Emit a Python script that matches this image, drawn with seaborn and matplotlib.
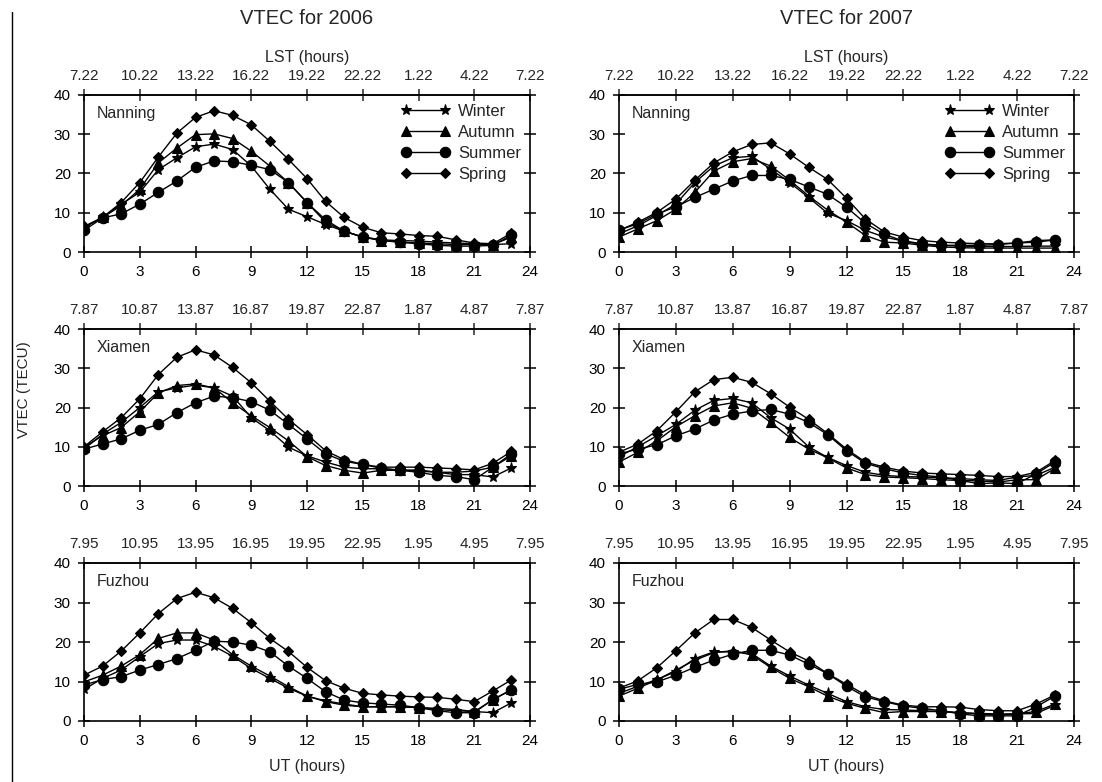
import numpy as np
import pandas as pd
import matplotlib
matplotlib.use("Agg")
import matplotlib.pyplot as plt
from matplotlib.lines import Line2D
import seaborn as sns

# ---------------- data ----------------
ut_hours = list(range(24))
ut_ticks = [0, 3, 6, 9, 12, 15, 18, 21, 24]
seasons = ["Winter", "Autumn", "Summer", "Spring"]
years = ["2006", "2007"]
stations = ["Nanning", "Xiamen", "Fuzhou"]

nanning_lst = ["7.22", "10.22", "13.22", "16.22", "19.22", "22.22", "1.22", "4.22", "7.22"]
xiamen_lst = ["7.87", "10.87", "13.87", "16.87", "19.87", "22.87", "1.87", "4.87", "7.87"]
fuzhou_lst = ["7.95", "10.95", "13.95", "16.95", "19.95", "22.95", "1.95", "4.95", "7.95"]

# Nanning 2006
nan06_winter = [6.3, 8.8, 12.2, 15.2, 21.0, 24.0, 26.8, 27.5, 26.1, 21.9, 16.0, 10.9, 9.0, 7.0, 5.3, 3.8, 3.1, 2.9, 2.8, 2.5, 2.3, 2.1, 1.9, 2.1]
nan06_autumn = [6.3, 8.8, 11.8, 16.0, 22.7, 26.5, 29.9, 30.1, 28.9, 25.7, 21.9, 17.7, 12.6, 7.6, 5.3, 3.8, 2.9, 2.5, 2.3, 2.1, 1.9, 1.9, 1.9, 3.8]
nan06_summer = [5.5, 8.7, 9.7, 12.2, 15.2, 18.1, 21.6, 23.2, 23.0, 22.1, 21.0, 17.7, 12.6, 8.2, 5.3, 3.8, 3.1, 2.5, 2.1, 1.7, 1.5, 1.5, 1.7, 4.3]
nan06_spring = [6.5, 8.8, 12.6, 17.7, 24.2, 30.3, 34.3, 36.0, 34.8, 32.4, 28.2, 23.6, 18.7, 12.9, 8.8, 6.3, 4.9, 4.6, 4.2, 4.0, 3.1, 2.3, 2.1, 4.8]
# Nanning 2007
nan07_winter = [4.6, 6.7, 9.3, 12.2, 17.7, 21.9, 24.0, 24.4, 21.1, 17.7, 13.9, 9.9, 8.0, 5.5, 3.8, 2.8, 2.1, 1.7, 1.5, 1.4, 1.4, 1.4, 1.5, 1.5]
nan07_autumn = [3.8, 5.9, 8.0, 10.9, 15.2, 20.6, 23.0, 23.8, 21.9, 18.3, 14.3, 10.7, 7.6, 4.2, 2.5, 2.3, 1.7, 1.3, 1.1, 1.0, 1.0, 1.0, 1.0, 1.0]
nan07_summer = [5.6, 7.2, 9.7, 11.5, 13.9, 16.0, 18.1, 19.5, 19.5, 18.5, 16.6, 14.7, 11.4, 7.3, 4.5, 2.8, 1.9, 1.7, 1.7, 1.7, 1.9, 2.3, 2.5, 3.1]
nan07_spring = [5.5, 7.6, 10.1, 13.5, 18.3, 22.7, 25.5, 27.4, 27.8, 25.0, 21.6, 18.5, 13.7, 8.4, 5.1, 3.8, 2.9, 2.5, 2.3, 2.1, 2.1, 2.3, 2.9, 3.1]
# Xiamen 2006
xia06_winter = [9.4, 13.2, 16.2, 20.0, 24.0, 25.0, 25.7, 25.0, 22.9, 17.4, 14.1, 9.9, 7.7, 6.1, 4.8, 4.4, 4.4, 4.1, 3.8, 3.5, 2.9, 2.9, 2.3, 4.6]
xia06_autumn = [9.9, 12.8, 14.9, 18.9, 23.7, 25.6, 26.0, 25.0, 21.2, 17.9, 14.9, 11.5, 7.5, 5.2, 4.0, 3.3, 4.0, 4.0, 4.1, 3.5, 3.5, 3.8, 4.8, 7.7]
xia06_summer = [9.4, 10.7, 12.0, 14.2, 15.7, 18.7, 21.2, 22.9, 22.5, 21.5, 19.3, 15.7, 12.0, 8.2, 6.3, 5.5, 4.5, 4.0, 3.5, 2.7, 2.4, 1.6, 4.8, 8.2]
xia06_spring = [10.0, 13.8, 17.4, 22.2, 28.4, 32.8, 34.7, 33.4, 30.2, 26.3, 21.6, 17.0, 13.1, 9.0, 6.7, 5.5, 4.8, 4.8, 4.8, 4.6, 4.4, 4.1, 5.8, 8.8]
# Xiamen 2007
xia07_winter = [7.5, 10.0, 12.8, 15.7, 19.3, 21.8, 22.3, 21.2, 17.4, 14.5, 10.0, 7.3, 5.2, 3.5, 2.7, 2.4, 2.3, 2.1, 1.9, 1.6, 1.4, 2.3, 2.7, 4.8]
xia07_autumn = [6.1, 8.6, 11.5, 15.1, 17.9, 20.4, 21.2, 19.8, 16.2, 12.4, 9.4, 7.2, 4.6, 2.9, 2.3, 2.1, 1.9, 1.6, 1.4, 1.3, 1.0, 1.6, 1.6, 4.5]
xia07_summer = [8.2, 9.4, 10.5, 12.8, 14.5, 16.8, 18.3, 19.1, 19.5, 18.3, 16.2, 13.1, 9.0, 5.8, 4.4, 3.3, 2.7, 2.3, 1.4, 0.6, 0.8, 0.6, 3.1, 6.1]
xia07_spring = [8.6, 10.7, 14.1, 18.9, 24.0, 27.1, 27.7, 26.4, 23.5, 20.1, 17.0, 13.4, 9.4, 6.1, 4.8, 3.8, 3.3, 3.1, 2.9, 2.7, 2.4, 2.4, 3.5, 6.5]
# Fuzhou 2006
fuz06_winter = [8.0, 10.8, 12.9, 16.3, 19.6, 20.5, 20.5, 18.9, 16.4, 13.3, 10.8, 8.3, 6.3, 5.1, 4.3, 3.6, 3.6, 3.6, 3.4, 2.9, 2.6, 2.4, 2.1, 4.6]
fuz06_autumn = [9.9, 11.6, 13.9, 16.8, 20.9, 22.3, 22.3, 20.5, 16.8, 13.9, 11.4, 8.7, 6.3, 4.9, 4.0, 3.6, 3.6, 3.6, 3.4, 3.2, 2.9, 2.4, 5.3, 8.0]
fuz06_summer = [9.1, 10.5, 11.2, 12.9, 14.3, 15.8, 17.9, 20.2, 20.0, 19.2, 17.5, 13.9, 10.8, 7.4, 5.3, 4.6, 4.3, 4.0, 3.4, 2.6, 2.1, 2.1, 5.5, 7.8]
fuz06_spring = [11.6, 13.9, 17.7, 22.3, 27.2, 31.0, 32.6, 31.2, 28.5, 24.9, 20.9, 17.6, 13.6, 10.2, 8.3, 7.0, 6.6, 6.3, 6.1, 6.0, 5.5, 4.9, 7.6, 10.4]
# Fuzhou 2007
fuz07_winter = [7.0, 8.8, 10.5, 12.5, 15.8, 17.5, 17.5, 17.1, 13.9, 11.4, 9.1, 7.0, 4.9, 3.6, 2.9, 2.8, 2.6, 2.4, 2.1, 1.9, 1.8, 1.8, 1.9, 4.0]
fuz07_autumn = [6.3, 8.3, 10.4, 12.9, 15.4, 17.3, 17.8, 16.7, 13.6, 10.8, 8.7, 6.3, 4.5, 3.2, 2.1, 2.4, 2.4, 2.4, 2.1, 1.8, 1.5, 1.8, 2.4, 4.3]
fuz07_summer = [8.0, 9.3, 9.9, 11.6, 13.6, 15.4, 16.9, 17.9, 17.9, 16.7, 14.4, 12.0, 8.8, 6.1, 4.9, 3.8, 3.2, 2.6, 1.8, 1.3, 1.3, 1.3, 3.6, 6.3]
fuz07_spring = [8.3, 10.2, 13.5, 17.8, 22.3, 25.7, 25.7, 23.7, 20.5, 17.5, 15.2, 12.0, 9.3, 6.6, 5.1, 4.0, 3.6, 3.6, 3.5, 2.9, 2.6, 2.6, 4.3, 6.6]

panel_data = {
    ("Nanning", "2006"): [nan06_winter, nan06_autumn, nan06_summer, nan06_spring],
    ("Nanning", "2007"): [nan07_winter, nan07_autumn, nan07_summer, nan07_spring],
    ("Xiamen", "2006"): [xia06_winter, xia06_autumn, xia06_summer, xia06_spring],
    ("Xiamen", "2007"): [xia07_winter, xia07_autumn, xia07_summer, xia07_spring],
    ("Fuzhou", "2006"): [fuz06_winter, fuz06_autumn, fuz06_summer, fuz06_spring],
    ("Fuzhou", "2007"): [fuz07_winter, fuz07_autumn, fuz07_summer, fuz07_spring],
}
lst_labels = {"Nanning": nanning_lst, "Xiamen": xiamen_lst, "Fuzhou": fuzhou_lst}

# ---------------- style ----------------
sns.set_style("ticks")
plt.rcParams["font.family"] = ["Liberation Sans", "DejaVu Sans"]
plt.rcParams["axes.linewidth"] = 1.2

marker_map = {"Winter": "*", "Autumn": "^", "Summer": "o", "Spring": "D"}
marker_size = {"Winter": 8, "Autumn": 7, "Summer": 7.5, "Spring": 5.5}

W, H = 1102, 782
fig = plt.figure(figsize=(W / 100, H / 100), dpi=100)

col_left = [84, 619]
col_right = [530, 1074]
row_top = [95, 329, 563]
row_bot = [252, 486, 721]

tick_fs = 11
for ci, year in enumerate(years):
    for ri, st in enumerate(stations):
        x0 = col_left[ci] / W
        w = (col_right[ci] - col_left[ci]) / W
        y0 = 1 - row_bot[ri] / H
        h = (row_bot[ri] - row_top[ri]) / H
        ax = fig.add_axes([x0, y0, w, h])

        rows = []
        for s, vals in zip(seasons, panel_data[(st, year)]):
            for hr, v in zip(ut_hours, vals):
                rows.append({"UT": hr, "VTEC": v, "Season": s})
        df = pd.DataFrame(rows)

        sns.lineplot(data=df, x="UT", y="VTEC", style="Season", style_order=seasons,
                     markers=marker_map, dashes=False, color="black", linewidth=1.0,
                     markeredgecolor="black", markeredgewidth=0.8, ax=ax,
                     legend=(ri == 0), sort=False)
        for ln in ax.lines:
            m = ln.get_marker()
            for s in seasons:
                if marker_map[s] == m:
                    ln.set_markersize(marker_size[s])

        ax.set_xlim(0, 24)
        ax.set_ylim(0, 40)
        ax.set_xticks(ut_ticks)
        ax.set_yticks([0, 10, 20, 30, 40])
        ax.tick_params(axis="both", direction="inout", length=9, width=1.1,
                       labelsize=tick_fs, colors="black", pad=5)
        ax.tick_params(axis="y", right=True, direction="inout")
        ax.set_xlabel("")
        ax.set_ylabel("")
        for sp in ax.spines.values():
            sp.set_color("black")
            sp.set_linewidth(1.2)

        sec = ax.secondary_xaxis("top")
        sec.set_xticks(ut_ticks, labels=lst_labels[st])
        sec.tick_params(direction="inout", length=9, width=1.1, labelsize=tick_fs, pad=4)

        ax.text(0.028, 0.885, st, transform=ax.transAxes, fontsize=11.5,
                ha="left", va="center")

        if ri == 0:
            sec.set_xlabel("LST (hours)", fontsize=11.5, labelpad=5)
            handles, labels = ax.get_legend_handles_labels()
            for hnd in handles:
                for s in seasons:
                    if marker_map[s] == hnd.get_marker():
                        hnd.set_markersize(marker_size[s])
            ax.legend(handles, labels, loc="upper right", frameon=False, numpoints=2,
                      handlelength=2.9, fontsize=12, labelspacing=0.35,
                      handletextpad=0.5, borderaxespad=0.15)
        if ri == 2:
            ax.set_xlabel("UT (hours)", fontsize=11.5, labelpad=8)

    cx = (col_left[ci] + col_right[ci]) / 2 / W
    fig.text(cx, 1 - 18 / H, f"VTEC for {year}", ha="center", va="center", fontsize=14.5)

fig.text(24 / W, 1 - 390 / H, "VTEC (TECU)", rotation=90, ha="center", va="center",
         fontsize=11)
fig.add_artist(Line2D([12 / W, 12 / W], [0, 1 - 12 / H], transform=fig.transFigure,
                      color="black", linewidth=1.0))

fig.savefig("out.png", dpi=100)
